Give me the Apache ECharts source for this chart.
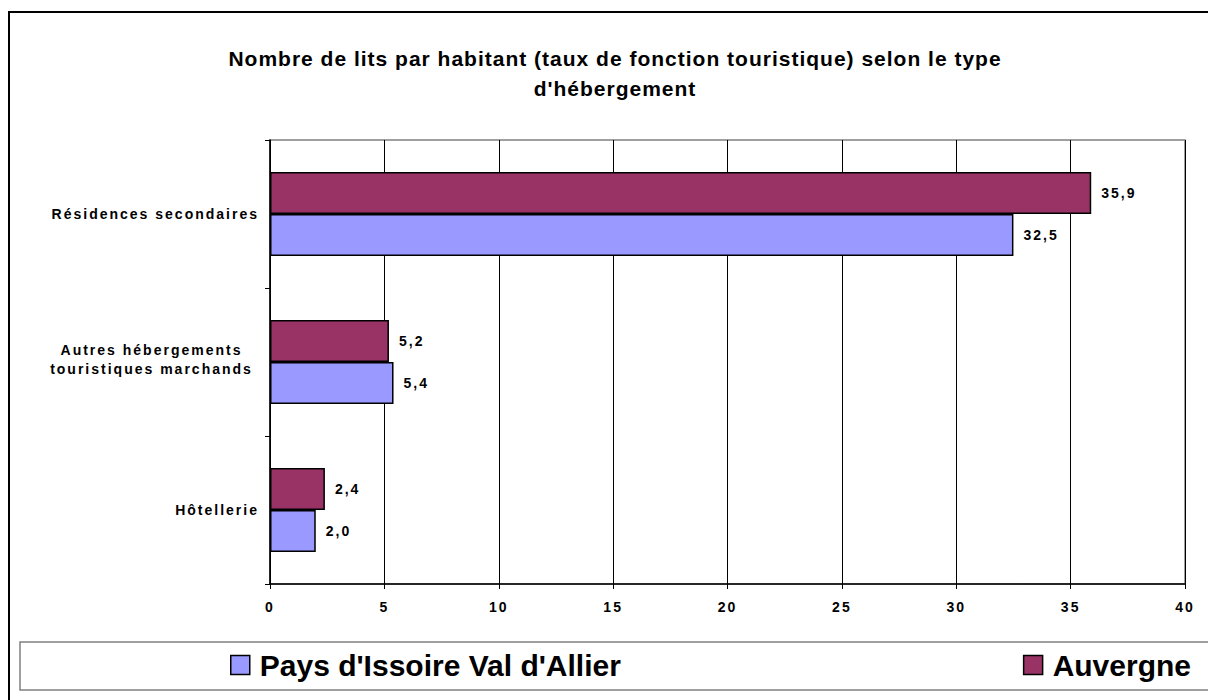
<!DOCTYPE html>
<html>
<head>
<meta charset="utf-8">
<script src="https://cdn.jsdelivr.net/npm/echarts@6/dist/echarts.min.js"></script>
<style>
  html, body { margin: 0; padding: 0; background: #fff; }
  #chart { width: 1208px; height: 700px; }
  #chart text[style*="14px"], #chart text[font-size="14px"] { letter-spacing: 2px; }
  #chart text[style*="21px"], #chart text[font-size="21px"] { letter-spacing: 1px; }
</style>
</head>
<body>
<div id="chart"></div>
<script>
const titleText = "Nombre de lits par habitant (taux de fonction touristique) selon le type\nd'hébergement";
const categories = ['Hôtellerie', 'Autres hébergements\ntouristiques marchands', 'Résidences secondaires'];
const seriesNames = ["Pays d'Issoire Val d'Allier", 'Auvergne'];
const paysValues = [2.0, 5.4, 32.5];
const auvergneValues = [2.4, 5.2, 35.9];
const xTicks = { min: 0, max: 40, interval: 5 };

const FONT = "'Liberation Sans', Arial, sans-serif";
const chart = echarts.init(document.getElementById('chart'), null, { renderer: 'svg' });

const labelFmt = p => p.value.toFixed(1).replace('.', ',');
const barLabel = {
  show: true, position: 'right', distance: 10, formatter: labelFmt,
  fontFamily: FONT, fontSize: 14, fontWeight: 'bold', color: '#000'
};
const legendText = { fontFamily: FONT, fontSize: 30, fontWeight: 'bold', color: '#000', padding: [0, 0, 0, 5] };

chart.setOption({
  animation: false,
  backgroundColor: '#fff',
  title: {
    text: titleText,
    left: 615, top: 43, textAlign: 'center', padding: 0,
    textStyle: { fontFamily: FONT, fontSize: 21, fontWeight: 'bold', color: '#000', lineHeight: 30 }
  },
  graphic: [
    { type: 'rect', shape: { x: 9, y: 12, width: 1300, height: 800 }, style: { fill: 'none', stroke: '#000', lineWidth: 2 }, z: 0, silent: true },
    { type: 'rect', shape: { x: 20, y: 642, width: 1300, height: 48 }, style: { fill: 'none', stroke: '#808080', lineWidth: 1.5 }, z: 0, silent: true }
  ],
  legend: [
    {
      data: [seriesNames[0]], left: 230, top: 650, padding: 0,
      itemWidth: 19, itemHeight: 19, icon: 'rect',
      itemStyle: { borderColor: '#000', borderWidth: 1.5 },
      textStyle: legendText
    },
    {
      data: [seriesNames[1]], right: 17, top: 650, padding: 0,
      itemWidth: 19, itemHeight: 19, icon: 'rect',
      itemStyle: { borderColor: '#000', borderWidth: 1.5 },
      textStyle: legendText
    }
  ],
  grid: {
    left: 270, right: 23, top: 140, bottom: 116,
    show: true, borderColor: '#808080', borderWidth: 1.5, backgroundColor: '#fff'
  },
  xAxis: {
    type: 'value', min: xTicks.min, max: xTicks.max, interval: xTicks.interval,
    axisLine: { show: true, lineStyle: { color: '#000', width: 1.5 } },
    axisTick: { show: true, length: 5, lineStyle: { color: '#000' } },
    splitLine: { show: true, lineStyle: { color: '#000', width: 1 } },
    axisLabel: { margin: 16, fontFamily: FONT, fontSize: 14, fontWeight: 'bold', color: '#000' }
  },
  yAxis: {
    type: 'category', data: categories,
    axisLine: { show: true, lineStyle: { color: '#000', width: 1.5 } },
    axisTick: { show: true, length: 5, lineStyle: { color: '#000' } },
    splitLine: { show: false },
    axisLabel: {
      margin: 11, fontFamily: FONT, fontSize: 14, fontWeight: 'bold', color: '#000', align: 'right',
      lineHeight: 19,
      formatter: v => v.indexOf('\n') >= 0 ? v.split('\n').map(s => '{c|' + s + '}').join('\n') + '\n{e|}' : v,
      rich: {
        c: { width: 215, align: 'center', fontFamily: FONT, fontSize: 14, fontWeight: 'bold', color: '#000', lineHeight: 19 },
        e: { height: 6, lineHeight: 6, fontSize: 6 }
      }
    }
  },
  series: [
    {
      name: seriesNames[1], type: 'bar', data: auvergneValues, barWidth: 42, barGap: '0%',
      itemStyle: { color: '#993366', borderColor: '#000', borderWidth: 1.5 },
      label: barLabel
    },
    {
      name: seriesNames[0], type: 'bar', data: paysValues, barWidth: 42, barGap: '0%',
      itemStyle: { color: '#9999FF', borderColor: '#000', borderWidth: 1.5 },
      label: barLabel
    }
  ]
});
</script>
</body>
</html>
